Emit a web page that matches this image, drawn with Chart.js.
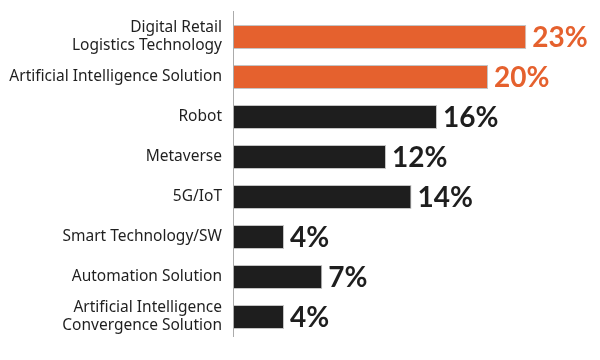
<!DOCTYPE html>
<html>
<head>
<meta charset="utf-8">
<style>
  html, body { margin: 0; padding: 0; background: #ffffff; }
  #wrap { width: 600px; height: 360px; position: relative; }
</style>
<script src="https://cdn.jsdelivr.net/npm/chart.js@4/dist/chart.umd.min.js"></script>
</head>
<body>
<div id="wrap"><canvas id="c" width="600" height="360"></canvas></div>
<script>
const categories = [
  ["Digital Retail", "Logistics Technology"],
  "Artificial Intelligence Solution",
  "Robot",
  "Metaverse",
  "5G/IoT",
  "Smart Technology/SW",
  "Automation Solution",
  ["Artificial Intelligence", "Convergence Solution"]
];
const shares = [23, 20, 16, 12, 14, 4, 7, 4];
const valueLabels = ["23%", "20%", "16%", "12%", "14%", "4%", "7%", "4%"];
const highlighted = [true, true, false, false, false, false, false, false];

const ORANGE = "#E5612E";
const DARK = "#1E1E1E";
const barColors = highlighted.map(h => h ? ORANGE : DARK);

const axisLinePlugin = {
  id: "axisLine",
  afterDatasetsDraw(chart) {
    const ctx = chart.ctx;
    const x = Math.round(chart.scales.x.getPixelForValue(0)) + 0.5;
    ctx.save();
    ctx.strokeStyle = "#ababab";
    ctx.lineWidth = 1;
    ctx.beginPath();
    ctx.moveTo(x, 11);
    ctx.lineTo(x, chart.chartArea.bottom);
    ctx.stroke();
    ctx.restore();
  }
};

const valueLabelPlugin = {
  id: "valueLabels",
  afterDatasetsDraw(chart) {
    const ctx = chart.ctx;
    const meta = chart.getDatasetMeta(0);
    ctx.save();
    ctx.font = "bold 28px Lato";
    ctx.textAlign = "left";
    ctx.textBaseline = "alphabetic";
    meta.data.forEach((bar, i) => {
      ctx.fillStyle = barColors[i];
      ctx.fillText(valueLabels[i], bar.x + 6, bar.y + 10);
    });
    ctx.restore();
  }
};

new Chart(document.getElementById("c"), {
  type: "bar",
  data: {
    labels: categories,
    datasets: [{
      data: shares,
      backgroundColor: barColors,
      borderColor: "#c4c4c4",
      borderWidth: 1,
      borderSkipped: false,
      barPercentage: 0.6,
      categoryPercentage: 1.0
    }]
  },
  options: {
    indexAxis: "y",
    responsive: false,
    animation: false,
    layout: { padding: { top: 17, bottom: 23, right: 10, left: 0 } },
    plugins: {
      legend: { display: false },
      tooltip: { enabled: false }
    },
    scales: {
      x: {
        display: false,
        min: 0,
        max: 28
      },
      y: {
        afterFit(scale) {
          scale.width = 233;
          scale.paddingTop = 0;
          scale.paddingBottom = 0;
        },
        grid: { display: false, drawTicks: false },
        border: { display: false },
        ticks: {
          color: "#1f1f1f",
          padding: 11,
          font: { family: "'Noto Sans'", size: 15.5, lineHeight: 1.16 }
        }
      }
    }
  },
  plugins: [axisLinePlugin, valueLabelPlugin]
});
</script>
</body>
</html>
